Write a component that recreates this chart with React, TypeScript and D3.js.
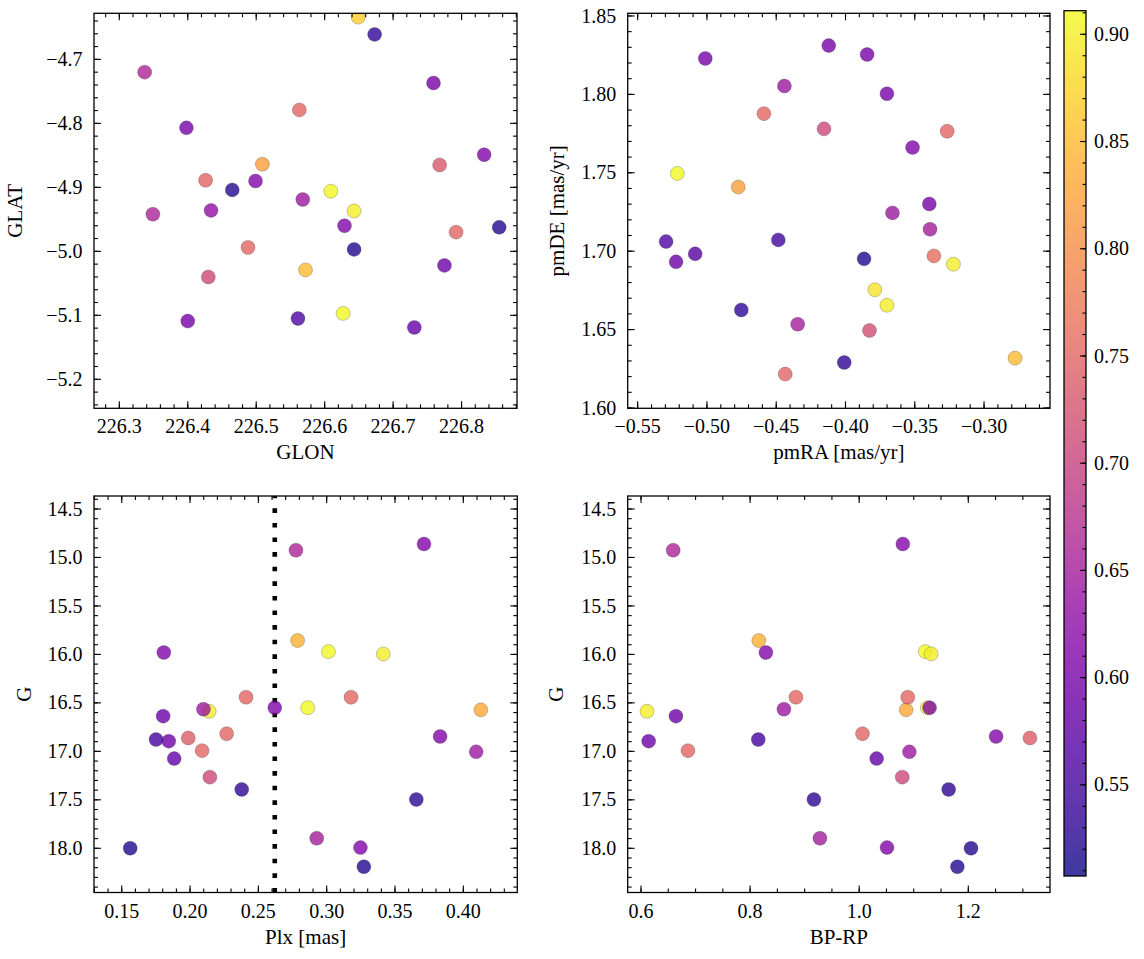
import React from "react";
import * as d3 from "d3";

// ---------- data ----------
// Panel 1: sky positions
const skyGlon = [226.649, 226.673, 226.337, 226.759, 226.563, 226.398, 226.509, 226.833, 226.768, 226.426, 226.465, 226.499, 226.609, 226.568, 226.349, 226.434, 226.643, 226.629, 226.855, 226.792, 226.488, 226.643, 226.775, 226.572, 226.430, 226.400, 226.561, 226.627, 226.731];
const skyGlat = [-4.634, -4.661, -4.720, -4.737, -4.779, -4.807, -4.864, -4.849, -4.865, -4.889, -4.904, -4.890, -4.906, -4.919, -4.942, -4.936, -4.937, -4.960, -4.9625, -4.970, -4.994, -4.997, -5.022, -5.029, -5.040, -5.109, -5.105, -5.097, -5.119];
const skyProb = [0.87, 0.53, 0.66, 0.60, 0.75, 0.60, 0.82, 0.61, 0.73, 0.75, 0.52, 0.61, 0.91, 0.64, 0.66, 0.63, 0.90, 0.61, 0.52, 0.75, 0.75, 0.52, 0.59, 0.85, 0.71, 0.60, 0.56, 0.91, 0.58];

// Panel 2: proper motions
const pmRA = [-0.4121, -0.3844, -0.5012, -0.4441, -0.3701, -0.4589, -0.4155, -0.3266, -0.3516, -0.5214, -0.4774, -0.3395, -0.3661, -0.3390, -0.5295, -0.4485, -0.5085, -0.5223, -0.3866, -0.3362, -0.3221, -0.3788, -0.3701, -0.4752, -0.4345, -0.3827, -0.4009, -0.2776, -0.4435];
const pmDE = [1.8311, 1.8254, 1.8229, 1.8053, 1.8004, 1.7877, 1.7780, 1.7765, 1.7661, 1.7496, 1.7409, 1.7301, 1.7244, 1.7140, 1.7061, 1.7072, 1.6983, 1.6932, 1.6951, 1.6970, 1.6917, 1.6754, 1.6655, 1.6625, 1.6534, 1.6494, 1.6290, 1.6318, 1.6216];
const pmProb = [0.60, 0.60, 0.60, 0.64, 0.60, 0.75, 0.71, 0.75, 0.61, 0.91, 0.82, 0.60, 0.64, 0.65, 0.56, 0.55, 0.57, 0.59, 0.52, 0.76, 0.90, 0.89, 0.90, 0.53, 0.65, 0.72, 0.53, 0.85, 0.75];

// Panels 3 & 4: parallax, photometry
const plx = [0.2775, 0.3712, 0.2787, 0.3013, 0.3414, 0.1808, 0.2410, 0.3178, 0.2098, 0.2140, 0.2620, 0.2861, 0.4128, 0.1803, 0.1751, 0.1844, 0.1987, 0.2088, 0.2268, 0.1884, 0.2145, 0.2378, 0.3830, 0.4094, 0.3656, 0.2927, 0.3247, 0.3272, 0.1562];
const gMag = [14.926, 14.861, 15.857, 15.971, 15.995, 15.981, 16.442, 16.442, 16.565, 16.587, 16.550, 16.550, 16.572, 16.637, 16.878, 16.895, 16.862, 16.993, 16.818, 17.075, 17.266, 17.393, 16.847, 17.005, 17.497, 17.897, 17.993, 18.191, 18.000];
const bpRp = [0.659, 1.080, 0.816, 1.121, 1.132, 0.829, 0.884, 1.089, 0.862, 0.611, 1.129, 1.125, 1.086, 0.664, 0.815, 0.614, 1.313, 0.686, 1.006, 1.032, 1.079, 1.164, 1.251, 1.092, 0.917, 0.928, 1.051, 1.180, 1.205];
const photProb = [0.66, 0.61, 0.84, 0.91, 0.90, 0.61, 0.75, 0.75, 0.64, 0.90, 0.61, 0.91, 0.83, 0.59, 0.55, 0.59, 0.74, 0.75, 0.75, 0.58, 0.71, 0.53, 0.61, 0.64, 0.53, 0.65, 0.61, 0.52, 0.52];
const plxCut = 0.262;

// tick labels
const glonTicks = [226.3, 226.4, 226.5, 226.6, 226.7, 226.8];
const glatTicks = [-5.2, -5.1, -5.0, -4.9, -4.8, -4.7];
const pmRATicks = [-0.55, -0.5, -0.45, -0.4, -0.35, -0.3];
const pmDETicks = [1.6, 1.65, 1.7, 1.75, 1.8, 1.85];
const plxTicks = [0.15, 0.2, 0.25, 0.3, 0.35, 0.4];
const gTicks = [14.5, 15.0, 15.5, 16.0, 16.5, 17.0, 17.5, 18.0];
const bpRpTicks = [0.6, 0.8, 1.0, 1.2];
const cbarTicks = [0.55, 0.6, 0.65, 0.7, 0.75, 0.8, 0.85, 0.9];
const cbarDomain = [0.5075, 0.911];

// ---------- drawing ----------
const FONT = "'Liberation Serif', 'Times New Roman', serif";
const TICK_FS = 20;
const LABEL_FS = 21;
const MAJ = 7;
const MIN = 4;

const color = d3.scaleSequential(d3.interpolatePlasma).domain(cbarDomain);

function minorTicks(dom: number[], step: number) {
  const a = Math.min(dom[0], dom[1]);
  const b = Math.max(dom[0], dom[1]);
  const s = Math.ceil(a / step - 1e-9);
  const e = Math.floor(b / step + 1e-9);
  return d3.range(s, e + 1).map((i) => +(i * step).toFixed(6));
}

type PanelCfg = {
  id: string;
  l: number; r: number; t: number; b: number;
  xDomain: number[]; yDomain: number[]; yInverted?: boolean;
  xTicks: number[]; yTicks: number[];
  xMinor: number; yMinor: number;
  xFmt: string; yFmt: string;
  xLabel: string; yLabel: string; yLabelX: number;
  xs: number[]; ys: number[]; ps: number[];
  vline?: number;
};

function Panel({ c }: { c: PanelCfg }) {
  const x = d3.scaleLinear().domain(c.xDomain).range([c.l, c.r]);
  const y = d3.scaleLinear().domain(c.yDomain).range(c.yInverted ? [c.t, c.b] : [c.b, c.t]);
  const fx = d3.format(c.xFmt);
  const fy = d3.format(c.yFmt);
  const xm = minorTicks(c.xDomain, c.xMinor);
  const ym = minorTicks(c.yDomain, c.yMinor);
  const order = d3.range(c.xs.length).sort((i, j) => c.ps[j] - c.ps[i]);
  const sw = 1.1;
  return (
    <g>
      <defs>
        <clipPath id={"clip-" + c.id}>
          <rect x={c.l} y={c.t} width={c.r - c.l} height={c.b - c.t} />
        </clipPath>
      </defs>
      <g clipPath={`url(#clip-${c.id})`}>
        {c.vline !== undefined && (
          <line x1={x(c.vline)} x2={x(c.vline)} y1={c.b} y2={c.t} stroke="#000" strokeWidth={4.6} strokeDasharray="4.6 10" />
        )}
        {order.map((i) => (
          <circle key={i} cx={x(c.xs[i])} cy={y(c.ys[i])} r={7}
            fill={color(c.ps[i])} fillOpacity={0.8}
            stroke="#333" strokeOpacity={0.45} strokeWidth={0.6} />
        ))}
      </g>
      {/* minor ticks */}
      {xm.map((v) => (
        <g key={"xm" + v}>
          <line x1={x(v)} x2={x(v)} y1={c.b} y2={c.b - MIN} stroke="#000" strokeWidth={sw} />
          <line x1={x(v)} x2={x(v)} y1={c.t} y2={c.t + MIN} stroke="#000" strokeWidth={sw} />
        </g>
      ))}
      {ym.map((v) => (
        <g key={"ym" + v}>
          <line x1={c.l} x2={c.l + MIN} y1={y(v)} y2={y(v)} stroke="#000" strokeWidth={sw} />
          <line x1={c.r} x2={c.r - MIN} y1={y(v)} y2={y(v)} stroke="#000" strokeWidth={sw} />
        </g>
      ))}
      {/* major ticks */}
      {c.xTicks.map((v) => (
        <g key={"xt" + v}>
          <line x1={x(v)} x2={x(v)} y1={c.b} y2={c.b - MAJ} stroke="#000" strokeWidth={sw} />
          <line x1={x(v)} x2={x(v)} y1={c.t} y2={c.t + MAJ} stroke="#000" strokeWidth={sw} />
          <text x={x(v)} y={c.b + 25} textAnchor="middle" fontSize={TICK_FS} fontFamily={FONT}>{fx(v)}</text>
        </g>
      ))}
      {c.yTicks.map((v) => (
        <g key={"yt" + v}>
          <line x1={c.l} x2={c.l + MAJ} y1={y(v)} y2={y(v)} stroke="#000" strokeWidth={sw} />
          <line x1={c.r} x2={c.r - MAJ} y1={y(v)} y2={y(v)} stroke="#000" strokeWidth={sw} />
          <text x={c.l - 11.5} y={y(v)} dy="0.33em" textAnchor="end" fontSize={TICK_FS} fontFamily={FONT}>{fy(v)}</text>
        </g>
      ))}
      <rect x={c.l} y={c.t} width={c.r - c.l} height={c.b - c.t} fill="none" stroke="#000" strokeWidth={1.3} />
      <text x={(c.l + c.r) / 2} y={c.b + 51} textAnchor="middle" fontSize={LABEL_FS} fontFamily={FONT}>{c.xLabel}</text>
      <text transform={`translate(${c.yLabelX},${(c.t + c.b) / 2}) rotate(-90)`} textAnchor="middle" fontSize={LABEL_FS} fontFamily={FONT}>{c.yLabel}</text>
    </g>
  );
}

function Colorbar() {
  const l = 1064, r = 1086, t = 10.7, b = 876;
  const y = d3.scaleLinear().domain(cbarDomain).range([b, t]);
  const stops = d3.range(0, 1.0001, 0.05);
  const minors = minorTicks(cbarDomain, 0.01);
  return (
    <g>
      <defs>
        <linearGradient id="cbar" x1="0" y1="1" x2="0" y2="0">
          {stops.map((s) => (
            <stop key={s} offset={s} stopColor={d3.interpolatePlasma(s)} stopOpacity={0.8} />
          ))}
        </linearGradient>
      </defs>
      <rect x={l} y={t} width={r - l} height={b - t} fill="url(#cbar)" />
      {minors.map((v) => (
        <line key={"cm" + v} x1={r} x2={r - 3.5} y1={y(v)} y2={y(v)} stroke="#000" strokeWidth={1.1} />
      ))}
      {cbarTicks.map((v) => (
        <g key={"ct" + v}>
          <line x1={r} x2={r - 6} y1={y(v)} y2={y(v)} stroke="#000" strokeWidth={1.1} />
          <text x={r + 8} y={y(v)} dy="0.33em" fontSize={TICK_FS} fontFamily={FONT}>{d3.format(".2f")(v)}</text>
        </g>
      ))}
      <rect x={l} y={t} width={r - l} height={b - t} fill="none" stroke="#000" strokeWidth={1.3} />
    </g>
  );
}

export default function App() {
  const panels: PanelCfg[] = [
    {
      id: "sky", l: 94, r: 517, t: 13.3, b: 408.3,
      xDomain: [226.263, 226.881], yDomain: [-5.2453, -4.628],
      xTicks: glonTicks, yTicks: glatTicks, xMinor: 0.02, yMinor: 0.02,
      xFmt: ".1f", yFmt: ".1f", xLabel: "GLON", yLabel: "GLAT", yLabelX: 22,
      xs: skyGlon, ys: skyGlat, ps: skyProb,
    },
    {
      id: "pm", l: 627.7, r: 1050, t: 13.3, b: 408.3,
      xDomain: [-0.5572, -0.2524], yDomain: [1.5998, 1.8517],
      xTicks: pmRATicks, yTicks: pmDETicks, xMinor: 0.01, yMinor: 0.01,
      xFmt: ".2f", yFmt: ".2f", xLabel: "pmRA [mas/yr]", yLabel: "pmDE [mas/yr]", yLabelX: 564,
      xs: pmRA, ys: pmDE, ps: pmProb,
    },
    {
      id: "plx", l: 94, r: 517.3, t: 496, b: 892.5,
      xDomain: [0.1297, 0.4395], yDomain: [14.366, 18.456], yInverted: true,
      xTicks: plxTicks, yTicks: gTicks, xMinor: 0.01, yMinor: 0.1,
      xFmt: ".2f", yFmt: ".1f", xLabel: "Plx [mas]", yLabel: "G", yLabelX: 31,
      xs: plx, ys: gMag, ps: photProb, vline: plxCut,
    },
    {
      id: "cmd", l: 627.7, r: 1050, t: 496, b: 892.5,
      xDomain: [0.5756, 1.3498], yDomain: [14.366, 18.456], yInverted: true,
      xTicks: bpRpTicks, yTicks: gTicks, xMinor: 0.05, yMinor: 0.1,
      xFmt: ".1f", yFmt: ".1f", xLabel: "BP-RP", yLabel: "G", yLabelX: 563,
      xs: bpRp, ys: gMag, ps: photProb,
    },
  ];
  return (
    <svg width={1144} height={959} style={{ position: "absolute", left: 0, top: 0, background: "#fff" }}>
      <rect x={0} y={0} width={1144} height={959} fill="#fff" />
      {panels.map((p) => <Panel key={p.id} c={p} />)}
      <Colorbar />
    </svg>
  );
}
